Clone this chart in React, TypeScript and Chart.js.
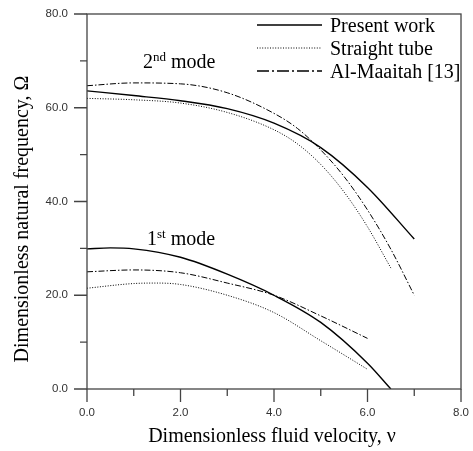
import React, { useEffect, useRef } from 'react';
import { Chart, registerables } from 'chart.js';

Chart.register(...registerables);

// ---- data ----
const velocityPresent2 = [0, 1, 2, 3, 4, 5, 6, 7];
const omegaPresent2 = [63.6, 62.6, 61.5, 59.8, 56.7, 51.5, 43.0, 32.0];

const velocityStraight2 = [0, 1, 2, 3, 4, 4.5, 5, 5.5, 6, 6.5];
const omegaStraight2 = [62.0, 61.7, 61.0, 59.0, 55.3, 52.3, 47.9, 42.0, 34.6, 25.8];

const velocityMaaitah2 = [0, 1, 2, 3, 4, 4.5, 5, 5.5, 6, 6.5, 7];
const omegaMaaitah2 = [64.7, 65.3, 65.1, 63.2, 58.8, 55.6, 51.0, 45.3, 38.2, 29.8, 20.0];

const velocityPresent1 = [0, 0.5, 1, 2, 3, 4, 5, 6, 6.5];
const omegaPresent1 = [29.9, 30.1, 29.9, 28.1, 24.5, 20.0, 14.2, 5.5, 0];

const velocityStraight1 = [0, 1, 1.5, 2, 3, 4, 5, 6];
const omegaStraight1 = [21.5, 22.5, 22.6, 22.3, 20.0, 16.3, 10.3, 4.2];

const velocityMaaitah1 = [0, 1, 2, 3, 4, 5, 6];
const omegaMaaitah1 = [25.0, 25.4, 24.8, 22.6, 20.0, 15.6, 10.8];

const xTickValues = [0, 1, 2, 3, 4, 5, 6, 7, 8];
const yTickValues = [0, 10, 20, 30, 40, 50, 60, 70, 80];

const legendLabels = ['Present work', 'Straight tube', 'Al-Maaitah [13]'];
const xTitle = 'Dimensionless fluid velocity, \u03bd';
const yTitle = 'Dimensionless natural frequency, \u03a9';

const SERIF = '"Liberation Serif", "Times New Roman", serif';
const SANS = '"Liberation Sans", Arial, sans-serif';

const zip = (xs: number[], ys: number[]) => xs.map((x, i) => ({ x, y: ys[i] }));

const STYLE_SOLID = { borderDash: [] as number[], borderWidth: 1.4 };
const STYLE_DOT = { borderDash: [1, 1.6], borderWidth: 1 };
const STYLE_DASHDOT = { borderDash: [6, 2, 1.5, 2], borderWidth: 1 };

const decorPlugin = {
  id: 'decor',
  afterDraw(chart: any) {
    const { ctx, chartArea } = chart;
    const { left, right, top, bottom } = chartArea;
    const xs = chart.scales.x;
    const ys = chart.scales.y;
    ctx.save();
    // frame
    ctx.strokeStyle = '#444';
    ctx.lineWidth = 1.3;
    ctx.setLineDash([]);
    ctx.strokeRect(left, top, right - left, bottom - top);
    // tick marks
    ctx.beginPath();
    xTickValues.forEach((v, i) => {
      const px = xs.getPixelForValue(v);
      const len = i % 2 === 0 ? 13 : 7;
      ctx.moveTo(px, bottom);
      ctx.lineTo(px, bottom + len);
    });
    yTickValues.forEach((v, i) => {
      const py = ys.getPixelForValue(v);
      const len = i % 2 === 0 ? 13 : 7;
      ctx.moveTo(left - len, py);
      ctx.lineTo(left, py);
    });
    ctx.stroke();

    // axis titles
    ctx.fillStyle = '#000';
    ctx.font = `20px ${SERIF}`;
    ctx.textAlign = 'center';
    ctx.textBaseline = 'alphabetic';
    ctx.fillText(xTitle, (left + right) / 2 - 2, 442);
    ctx.save();
    ctx.translate(28, 219);
    ctx.rotate(-Math.PI / 2);
    ctx.fillText(yTitle, 0, 0);
    ctx.restore();

    // mode annotations
    const drawMode = (x: number, y: number, num: string, sup: string) => {
      ctx.textAlign = 'left';
      ctx.font = `20px ${SERIF}`;
      ctx.fillText(num, x, y);
      let cx = x + ctx.measureText(num).width;
      ctx.font = `13px ${SERIF}`;
      ctx.fillText(sup, cx, y - 7);
      cx += ctx.measureText(sup).width;
      ctx.font = `20px ${SERIF}`;
      ctx.fillText(' mode', cx, y);
    };
    drawMode(143, 68, '2', 'nd');
    drawMode(147, 245, '1', 'st');

    // legend
    const styles = [
      { dash: [], w: 1.5 },
      { dash: [1, 1.6], w: 1 },
      { dash: [12, 3, 2, 3], w: 1.3 },
    ];
    legendLabels.forEach((lab, i) => {
      const ly = 25 + i * 23;
      ctx.beginPath();
      ctx.strokeStyle = '#000';
      ctx.lineWidth = styles[i].w;
      ctx.setLineDash(styles[i].dash);
      ctx.moveTo(257, ly);
      ctx.lineTo(322, ly);
      ctx.stroke();
      ctx.setLineDash([]);
      ctx.font = `20px ${SERIF}`;
      ctx.textAlign = 'left';
      ctx.fillText(lab, 330, ly + 7);
    });
    ctx.restore();
  },
};

export default function App() {
  const ref = useRef<HTMLCanvasElement>(null);
  useEffect(() => {
    document.body.style.margin = '0';
    const mk = (label: string, data: any, style: any) => ({
      label,
      data,
      borderColor: '#000',
      backgroundColor: '#000',
      pointRadius: 0,
      fill: false,
      cubicInterpolationMode: 'monotone' as const,
      ...style,
    });
    const chart = new Chart(ref.current as HTMLCanvasElement, {
      type: 'line',
      data: {
        datasets: [
          mk('Present work', zip(velocityPresent2, omegaPresent2), STYLE_SOLID),
          mk('Straight tube', zip(velocityStraight2, omegaStraight2), STYLE_DOT),
          mk('Al-Maaitah [13]', zip(velocityMaaitah2, omegaMaaitah2), STYLE_DASHDOT),
          mk('Present work 1', zip(velocityPresent1, omegaPresent1), STYLE_SOLID),
          mk('Straight tube 1', zip(velocityStraight1, omegaStraight1), STYLE_DOT),
          mk('Al-Maaitah 1', zip(velocityMaaitah1, omegaMaaitah1), STYLE_DASHDOT),
        ],
      },
      options: {
        animation: false,
        responsive: false,
        layout: { padding: { top: 14, right: 10, left: 0, bottom: 0 } },
        plugins: { legend: { display: false }, tooltip: { enabled: false } },
        scales: {
          x: {
            type: 'linear',
            min: 0,
            max: 8,
            grid: { display: false, drawTicks: true, tickLength: 13 },
            border: { display: false },
            ticks: {
              stepSize: 2,
              padding: 4,
              maxRotation: 0,
              color: '#333',
              font: { family: SANS, size: 11.5 },
              callback: (v: any) => Number(v).toFixed(1),
            },
            afterFit: (s: any) => { s.height = 62; },
          },
          y: {
            type: 'linear',
            min: 0,
            max: 80,
            grid: { display: false, drawTicks: true, tickLength: 13 },
            border: { display: false },
            ticks: {
              stepSize: 20,
              padding: 6,
              color: '#333',
              font: { family: SANS, size: 11.5 },
              callback: (v: any) => Number(v).toFixed(1),
            },
            afterFit: (s: any) => { s.width = 87; },
          },
        },
      },
      plugins: [decorPlugin],
    });
    return () => chart.destroy();
  }, []);
  return <canvas ref={ref} width={473} height={451} style={{ display: 'block' }} />;
}
